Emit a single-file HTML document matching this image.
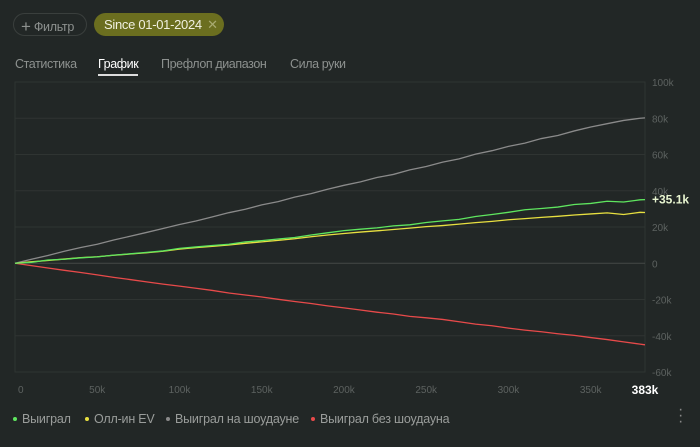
<!DOCTYPE html>
<html><head><meta charset="utf-8"><style>
body{margin:0;width:700px;height:447px;background:#222726;font-family:"Liberation Sans",sans-serif;overflow:hidden;position:relative;color:#8d918f}
.pill{position:absolute;top:13px;height:23px;border-radius:12px;font-size:13px;line-height:23px;box-sizing:border-box;white-space:nowrap;letter-spacing:-0.3px}
.tab{position:absolute;top:57px;font-size:12.5px;color:#8d918f;white-space:nowrap;letter-spacing:-0.4px}
.leg{position:absolute;top:412px;font-size:12.5px;color:#9a9d9b;white-space:nowrap;letter-spacing:-0.2px}
.dot{display:inline-block;width:4px;height:4px;border-radius:50%;margin-right:5px;vertical-align:middle;position:relative;top:-1px}
</style></head><body>
<div class="pill" style="left:13px;width:74px;border:1px solid #3a3f3d;padding-left:7px;color:#8d918f;font-size:12.5px"><span style="font-size:17px;position:relative;top:1px">+</span> Фильтр</div>
<div class="pill" style="left:94px;width:130px;background:#6b6e1f;color:#f0f0e0;padding-left:10px">Since 01-01-2024 <span style="color:#a8aa70;margin-left:2px">✕</span></div>
<div class="tab" style="left:15px">Статистика</div>
<div class="tab" style="left:98px;color:#fff;border-bottom:2px solid #ddd;padding-bottom:3px">График</div>
<div class="tab" style="left:161px">Префлоп диапазон</div>
<div class="tab" style="left:290px">Сила руки</div>
<svg id="chart" width="700" height="447" style="position:absolute;left:0;top:0"></svg>
<div class="leg" style="left:13px"><span class="dot" style="background:#5fe65f"></span>Выиграл</div>
<div class="leg" style="left:85px"><span class="dot" style="background:#e8e040"></span>Олл-ин EV</div>
<div class="leg" style="left:166px"><span class="dot" style="background:#8a8a8a"></span>Выиграл на шоудауне</div>
<div class="leg" style="left:311px"><span class="dot" style="background:#e84a4a"></span>Выиграл без шоудауна</div>
<div style="position:absolute;left:678px;top:407px;color:#888;font-size:16px;line-height:6px">·<br>·<br>·</div>
<script>
const hands=[0,10,20,30,40,50,60,70,80,90,100,110,120,130,140,150,160,170,180,190,200,210,220,230,240,250,260,270,280,290,300,310,320,330,340,350,360,370,380,383];
const won=[0,0.5,1.8,2.2,3.0,3.5,4.5,5.2,6.0,6.8,8.2,9.0,9.8,10.5,11.8,12.5,13.4,14.2,15.6,16.8,18.0,18.8,19.5,20.6,21.2,22.5,23.4,24.2,25.8,26.9,28.1,29.5,30.2,31.0,32.4,33.0,34.2,33.8,35.0,35.1];
const allinEv=[0,0.8,1.5,2.3,3.1,3.6,4.4,5.1,5.8,6.6,7.8,8.6,9.3,10.1,11.0,11.8,12.6,13.5,14.6,15.6,16.4,17.2,17.9,18.6,19.4,20.2,20.8,21.6,22.4,23.1,24.0,24.6,25.3,25.9,26.6,27.2,27.8,26.9,28.1,28.0];
const showdown=[0,2.2,4.3,6.6,8.7,10.5,12.8,14.9,17.0,19.2,21.4,23.3,25.6,27.9,29.8,32.2,34.0,36.5,38.4,40.8,43.0,44.9,47.3,49.0,51.5,53.4,55.8,57.6,60.2,62.1,64.5,66.3,68.8,70.5,73.0,75.2,77.0,78.8,80.0,80.2];
const noShowdown=[0,-1.3,-2.6,-3.9,-5.1,-6.4,-7.8,-9.0,-10.3,-11.5,-12.6,-13.8,-15.0,-16.4,-17.5,-18.6,-19.9,-21.1,-22.2,-23.5,-24.6,-25.8,-27.0,-28.0,-29.3,-30.1,-31.0,-32.3,-33.6,-34.5,-35.8,-36.9,-37.8,-38.9,-39.8,-41.0,-42.1,-43.4,-44.6,-45.0];
const yTicks=[100,80,60,40,20,0,-20,-40,-60];
const yTickLabels=["100k","80k","60k","40k","20k","0","-20k","-40k","-60k"];
const xTicks=[0,50,100,150,200,250,300,350];
const xTickLabels=["0","50k","100k","150k","200k","250k","300k","350k"];
const svg=document.getElementById('chart');const NS='http://www.w3.org/2000/svg';
const X0=15,X1=645,Y0=82,Y1=372,xMax=383,yMax=100,yMin=-60;
const x=v=>X0+(v/xMax)*(X1-X0);
const y=v=>Y0+(yMax-v)/(yMax-yMin)*(Y1-Y0);
function mk(t,a){const e=document.createElementNS(NS,t);for(const k in a)e.setAttribute(k,a[k]);svg.appendChild(e);return e;}
const frame=mk('rect',{x:X0,y:Y0,width:X1-X0,height:Y1-Y0,fill:'none',stroke:'#2f3432'});


yTicks.forEach((t,i)=>{
 const g=mk('line',{x1:X0,x2:X1,y1:y(t),y2:y(t),stroke:t===0?'#444947':'#2f3432'});
 
 
 const l=mk('text',{x:652,y:y(t)+4,fill:'#5d6260','font-size':'10'});l.textContent=yTickLabels[i];
 
 
});
xTicks.forEach((t,i)=>{
 const l=mk('text',{x:x(t)+(i===0?3:0),y:393,fill:'#5d6260','font-size':'10','text-anchor':i===0?'start':'middle'});l.textContent=xTickLabels[i];
 
 
});
const xl=mk('text',{x:x(xMax),y:394,fill:'#fff','font-size':'12','font-weight':'bold','text-anchor':'middle'});xl.textContent=xMax+'k';


function line(d,c,n){const p=mk('polyline',{points:d.map((v,i)=>x(hands[i])+','+y(v)).join(' '),fill:'none',stroke:c,'stroke-width':'1.3'});
 
 }
line(noShowdown,'#e84a4a','line-won-no-showdown');
line(showdown,'#8a8a8a','line-won-showdown');
line(allinEv,'#e8e040','line-allin-ev');
line(won,'#5fe65f','line-won');
const vl=mk('text',{x:652,y:y(won[won.length-1])+4,fill:'#e8f5d0','font-size':'12','font-weight':'bold'});vl.textContent='+'+won[won.length-1].toFixed(1)+'k';


</script>
</body></html>
